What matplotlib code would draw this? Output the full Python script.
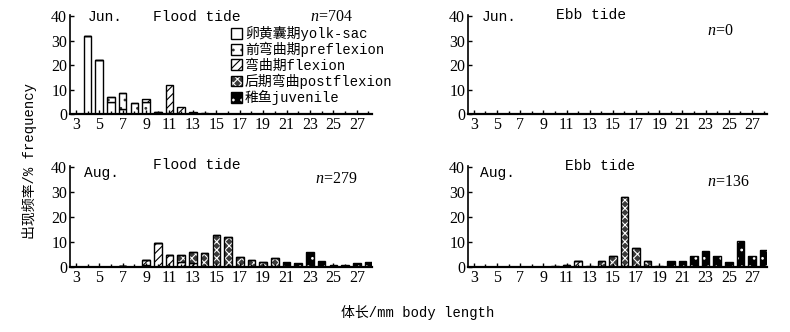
import matplotlib
matplotlib.use("Agg")
import matplotlib.pyplot as plt
from matplotlib.patches import Patch
from matplotlib.ticker import MultipleLocator

plt.rcParams['mathtext.fontset'] = 'custom'
plt.rcParams['mathtext.it'] = 'Liberation Serif:italic'
plt.rcParams['mathtext.rm'] = 'Liberation Serif'
plt.rcParams['hatch.linewidth'] = 0.8

# body length classes (mm)
sizes = list(range(4, 29))

# frequency (%) per stage, one value per size class 4..28
jun_flood_yolk = [32, 22, 5, 2, 0, 0, 0, 0, 0, 0, 0, 0, 0, 0, 0, 0, 0, 0, 0, 0, 0, 0, 0, 0, 0]
jun_flood_pre = [0, 0, 2, 6.5, 4.5, 5, 1, 0.5, 0, 0, 0, 0, 0, 0, 0, 0, 0, 0, 0, 0, 0, 0, 0, 0, 0]
jun_flood_flex = [0, 0, 0, 0, 0, 1, 0, 11.5, 3, 1, 0.5, 0, 0, 0, 0, 0, 0, 0, 0, 0, 0, 0, 0, 0, 0]

zeros = [0] * 25

aug_flood_pre = [0, 0, 0, 0.5, 0, 1, 0, 0, 0, 0, 0, 0, 0, 0, 0, 0, 0, 0, 0, 0, 0, 0, 0, 0, 0]
aug_flood_flex = [0, 0, 0, 0, 0, 2, 9.5, 5, 2, 1.5, 0, 0, 0, 0, 0, 0, 0, 0, 0, 0, 0, 0, 0, 0, 0]
aug_flood_post = [0, 0, 0, 0, 0, 0, 0, 0, 3, 4.5, 5.5, 13, 12, 4, 3, 2, 3.5, 0, 0, 0, 0, 0, 0, 0, 0]
aug_flood_juv = [0, 0, 0, 0, 0, 0, 0, 0, 0, 0, 0, 0, 0, 0, 0, 0, 0, 2, 1.5, 6, 2.5, 1, 0.8, 1.5, 2]

aug_ebb_flex = [0, 0, 0, 0, 0, 0, 0, 0, 2.5, 0, 0, 0, 0, 0, 0, 0, 0, 0, 0, 0, 0, 0, 0, 0, 0]
aug_ebb_post = [0, 0, 0, 0, 0, 0, 0, 1, 0, 0, 2.5, 4.5, 28, 7.5, 2.5, 0, 0, 0, 0, 0, 0, 0, 0, 0, 0]
aug_ebb_juv = [0, 0, 0, 0, 0, 0, 0.5, 0, 0, 0.5, 0, 0, 0, 0, 0, 0.3, 2.5, 2.5, 4.3, 6.5, 4.3, 2, 10.5, 4.3, 7]

stage_labels = ["卵黄囊期yolk-sac", "前弯曲期preflexion", "弯曲期flexion",
                "后期弯曲postflexion", "稚鱼juvenile"]

panels = [
    ("Jun.", "Flood tide", "704", [jun_flood_yolk, jun_flood_pre, jun_flood_flex, zeros, zeros]),
    ("Jun.", "Ebb tide", "0", [zeros, zeros, zeros, zeros, zeros]),
    ("Aug.", "Flood tide", "279", [zeros, aug_flood_pre, aug_flood_flex, aug_flood_post, aug_flood_juv]),
    ("Aug.", "Ebb tide", "136", [zeros, zeros, aug_ebb_flex, aug_ebb_post, aug_ebb_juv]),
]

# (facecolor, hatch, hatch colour)
styles = [
    ("white", None, "black"),
    ("white", "..", "#333333"),
    ("white", "////", "black"),
    ("#3a3a3a", "xxxx", "white"),
    ("black", "..", "white"),
]

mono = ['Liberation Mono', 'Noto Sans CJK SC']
serif = 'Liberation Serif'

fig = plt.figure(figsize=(7.9, 3.32), dpi=100)
W, H = 790, 332
boxes = [(70, 15, 372, 114), (468, 15, 767, 114), (70, 166, 372, 267), (468, 166, 767, 267)]
text_pos = [
    dict(month=(0.06, 0.98), title=(0.42, 0.98), n=(0.795, 0.98)),
    dict(month=(0.045, 0.98), title=(0.41, 1.0), n=(0.80, 0.84)),
    dict(month=(0.045, 0.93), title=(0.42, 1.01), n=(0.81, 0.87)),
    dict(month=(0.04, 0.93), title=(0.44, 1.0), n=(0.80, 0.84)),
]

for (month, title, n, stacks), (x0, y0, x1, y1), tp in zip(panels, boxes, text_pos):
    ax = fig.add_axes([x0 / W, (H - y1) / H, (x1 - x0) / W, (y1 - y0) / H])
    bottom = [0] * len(sizes)
    for vals, (fc, hatch, hc) in zip(stacks, styles):
        if sum(vals) == 0:
            continue
        ax.bar(sizes, vals, 0.65, bottom=bottom, color=fc, hatch=hatch,
               edgecolor=hc, linewidth=0)
        ax.bar(sizes, vals, 0.65, bottom=bottom, fill=False,
               edgecolor="black", linewidth=1.0)
        bottom = [b + v for b, v in zip(bottom, vals)]
    ax.set_xlim(2.5, 28.3)
    ax.set_ylim(0, 40.5)
    ax.set_xticks(range(3, 28, 2))
    ax.xaxis.set_minor_locator(MultipleLocator(1))
    ax.set_yticks([0, 10, 20, 30, 40])
    ax.tick_params(direction="in", length=3, width=1, labelsize=11.5, pad=2)
    ax.tick_params(which="minor", direction="in", length=2, width=1)
    for lab in ax.get_xticklabels() + ax.get_yticklabels():
        lab.set_family(serif)
    ax.spines["top"].set_visible(False)
    ax.spines["right"].set_visible(False)
    ax.spines["left"].set_linewidth(1.2)
    ax.spines["bottom"].set_linewidth(1.6)
    ax.text(*tp["month"], month, transform=ax.transAxes, family=mono,
            fontsize=10.5, ha="left", va="center")
    ax.text(*tp["title"], title, transform=ax.transAxes, family=mono,
            fontsize=10.5, ha="center", va="center")
    ax.text(*tp["n"], "$n$=" + n, transform=ax.transAxes, family=serif,
            fontsize=11.5, ha="left", va="center")
    if month == "Jun." and title == "Flood tide":
        handles = []
        for fc, hatch, hc in styles:
            handles.append((Patch(facecolor=fc, hatch=hatch, edgecolor=hc, linewidth=0),
                            Patch(fill=False, edgecolor="black", linewidth=1.0)))
        fig.legend(handles, stage_labels, loc="upper left",
                   bbox_to_anchor=(231 / W, (H - 26) / H),
                   bbox_transform=fig.transFigure, frameon=False,
                   prop={'family': mono, 'size': 10},
                   handlelength=0.8, handleheight=0.8, handletextpad=0.2,
                   labelspacing=0.08, borderpad=0, borderaxespad=0)

fig.text(30 / W, 0.515, "出现频率/% frequency", rotation=90, family=mono,
         fontsize=10, ha="center", va="center")
fig.text(418 / W, (H - 313) / H, "体长/mm body length", family=mono,
         fontsize=10, ha="center", va="center")

fig.savefig("out.png", dpi=100)
